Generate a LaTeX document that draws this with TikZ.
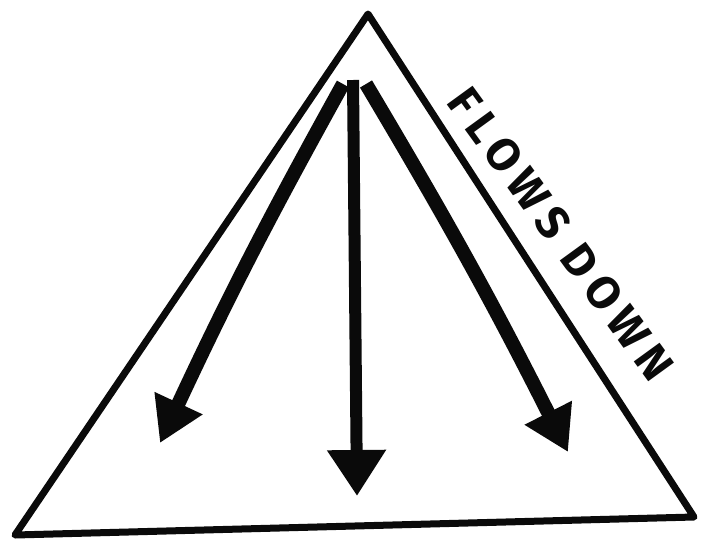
\documentclass[tikz,border=0pt]{standalone}
\usepackage{fontspec}
\setsansfont{Fira Sans}
\usetikzlibrary{arrows.meta,positioning,calc}
\definecolor{ink}{RGB}{10,10,10}
\tikzset{
  every picture/.style={color=ink, line width=0.5pt},
  edge/.style={draw=ink, line width=7pt, line join=round, line cap=round},
  down/.style={-{Triangle[length=44pt,width=50pt]}, draw=ink, line width=14pt},
  downwide/.style={-{Triangle[length=46pt,width=56pt]}, draw=ink, line width=12pt},
  caption/.style={font=\sffamily\bfseries\fontsize{46}{46}\selectfont\addfontfeature{LetterSpace=18}, text=ink, inner sep=0pt},
}
\begin{document}
\begin{tikzpicture}[x=1pt, y=-1pt]
  \useasboundingbox (0,0) rectangle (708,541);
  % outline
  \coordinate (top) at (368,14);
  \coordinate (bl) at (15,535);
  \coordinate (br) at (694,517);
  \draw[edge] (top) -- (br) -- (bl) -- cycle;
  % arrows
  \coordinate (srcL) at (343,84);
  \coordinate (srcM) at (353,80);
  \coordinate (srcR) at (366,84);
  \coordinate (endL) at (160,443);
  \coordinate (endM) at (357,496);
  \coordinate (endR) at (568,452);
  \draw[down] (srcL) to[bend right=2] (endL);
  \draw[downwide] (srcM) -- (endM);
  \draw[down] (srcR) to[bend left=2] (endR);
  % label
  \node[caption, rotate=-54] (flow) at (561,234) {FLOWS DOWN};
\end{tikzpicture}
\end{document}
